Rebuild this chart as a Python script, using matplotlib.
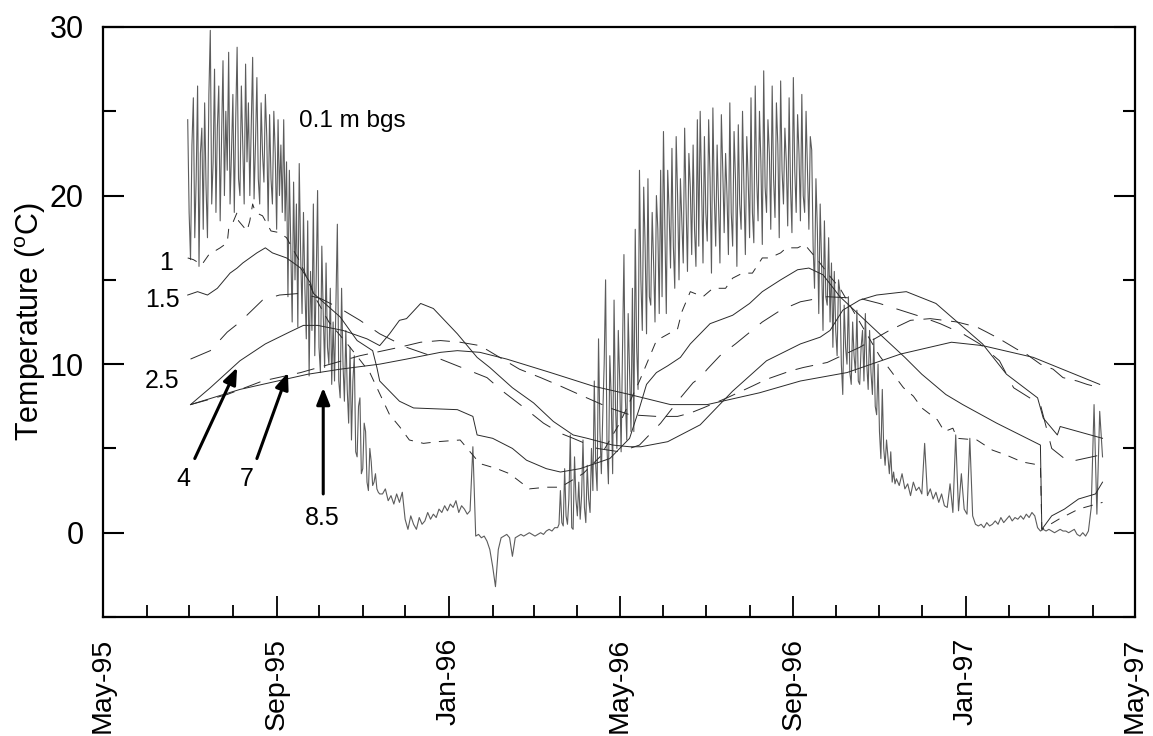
import numpy as np
import pandas as pd
import matplotlib
matplotlib.use("Agg")
import matplotlib.pyplot as plt
import matplotlib.dates as mdates
from matplotlib.ticker import FixedLocator

plt.rcParams['font.family'] = ['Liberation Sans', 'DejaVu Sans']
plt.rcParams['mathtext.fontset'] = 'custom'
plt.rcParams['mathtext.rm'] = 'Liberation Sans'
plt.rcParams['lines.scale_dashes'] = False

BASE = pd.Timestamp('1995-05-01')

# ---------------- 0.1 m bgs readings: segments (start day since 1 May 1995, step in days) -------------
t01_starts = [60, 78, 131, 148, 165, 176, 198, 262, 282, 322, 347, 376, 396, 422, 462, 502, 522, 548, 562, 662, 700]
t01_steps = [1, 1, 1, 1, 1, 1, 2, 2, 2, 1, 1, 1, 1, 1, 1, 1, 1, 1, 2, 2, 2]
t01_a = [24.5, 19.0, 16.2, 23.0, 25.8, 17.5, 21.0, 26.5, 15.8, 22.5, 24.0, 18.0, 25.5, 20.5,
         17.5, 26.0, 29.8, 19.5]
t01_b = [22.0, 27.5, 19.0, 24.0, 26.5, 18.5, 23.5, 28.0, 20.0, 25.0,
         21.5, 28.5, 19.5, 22.5, 26.0, 19.0, 24.5, 28.8, 21.0, 20.0,
         26.5, 23.0, 19.5, 27.8, 22.0, 25.5, 20.0, 24.0, 28.2, 19.8,
         23.0, 27.0, 21.0, 19.5, 25.5, 22.5, 20.8, 26.0, 23.5, 18.5,
         24.8, 21.0, 19.5, 25.0, 22.5, 18.0, 24.5, 20.0, 23.0, 19.0,
         24.5, 18.5, 22.0]
t01_c = [14.0, 21.5, 17.0, 12.5, 20.8, 15.0, 19.5, 12.2, 21.9, 16.5, 13.0, 19.0, 14.5, 11.5,
         18.5, 9.3, 15.5]
t01_d = [12.0, 19.5, 10.5, 15.0, 20.3, 11.0, 9.5, 17.0, 13.0, 9.8, 16.0, 11.0, 10.0, 14.5,
         8.8, 12.5, 9.0]
t01_e = [13.5, 18.3, 9.0, 8.0, 14.5, 10.0, 7.8, 12.0, 8.5, 6.5, 11.0]
t01_f = [5.5, 9.0, 10.5, 4.8, 4.5, 7.5, 8.0, 3.5, 3.8, 6.5, 6.0, 3.0, 2.5, 5.0, 4.2, 2.8,
         3.0, 3.5, 2.6, 2.4, 2.3]
t01_g = [2.3, 2.6, 1.9, 2.2, 1.7, 2.3, 1.8, 2.4, 0.8, 0.2, 1.0, 0.5, 0.2, 0.9, 0.5, 0.7,
         1.2, 0.8, 1.1, 0.9, 1.4, 1.2, 1.6, 1.3, 1.7, 1.5, 1.9, 1.2, 1.6, 1.4, 1.1, 1.3]
t01_h = [5.1, -0.2, -0.1, -0.3, -0.2, -0.5, -1.0, -2.0, -3.2, -1.0]
t01_i = [-0.3, -0.2, -0.1, -0.3, -1.4, -0.3, -0.2, -0.1, -0.2, -0.1, 0.0, -0.1, -0.2, -0.1,
         0.0, -0.1, 0.1, 0.2, 0.1, 0.3]
t01_j = [0.3, 0.5, 2.5, 0.6, 0.4, 3.8, 1.0, 0.5, 2.0, 5.8,
         0.3, 0.2, 4.5, 2.0, 1.0, 3.0, 0.8, 2.2, 5.5, 1.5,
         0.6, 4.0, 2.0, 1.2, 5.0]
t01_k = [2.5, 9.0, 4.0, 2.5, 11.5, 6.0, 3.5, 7.0, 10.0, 15.0,
         5.0, 2.9, 10.5, 8.0, 3.5, 13.8, 7.5, 5.0, 12.0, 9.0,
         4.8, 11.0, 16.5, 8.0, 5.5, 13.0, 9.5, 6.0, 14.5]
t01_l = [6.0, 18.0, 11.0, 8.5, 21.5, 15.0, 12.0, 20.5, 17.0, 11.8, 21.0, 14.0, 13.5, 19.0,
         16.0, 12.5, 20.0, 18.0, 13.0, 21.5]
t01_m = [14.0, 23.8, 18.0, 13.0, 21.5, 19.0, 15.7, 22.8, 17.0, 14.5,
         23.5, 20.0, 15.0, 21.0, 18.5, 16.0, 24.0, 19.5, 15.5, 22.5,
         20.5, 16.5, 23.0, 18.0, 15.8, 24.5]
t01_n = [17.0, 25.0, 20.5, 16.0, 23.5, 19.0, 17.3, 24.5, 21.0, 15.4,
         25.2, 20.0, 17.0, 23.0, 19.5, 16.0, 24.8, 21.5, 17.8, 22.5,
         20.0, 16.5, 25.5, 19.0, 17.0, 23.8, 21.0, 15.8, 24.2, 19.5,
         18.0, 25.0, 20.5, 16.5, 23.5, 21.0, 17.5, 25.8, 19.0, 17.2]
t01_o = [26.5, 21.0, 18.5, 25.0, 22.0, 17.1, 27.4, 20.5, 19.0, 24.5,
         22.5, 18.0, 26.5, 21.0, 18.7, 25.5, 23.0, 17.5, 26.8, 21.5,
         19.5, 24.0, 22.0, 18.2, 25.8, 20.5, 17.8, 27.0, 21.5, 19.0,
         24.8, 22.5, 18.5, 26.0, 20.0, 19.0, 25.0, 21.5, 18.0, 23.5]
t01_p = [22.7, 17.0, 14.5, 21.0, 18.0, 13.0, 19.5, 16.0, 12.0, 18.5, 14.0, 13.5, 17.5, 12.5,
         16.0, 11.0, 15.5, 12.0, 10.5, 15.0]
t01_q = [14.3, 10.0, 8.2, 13.5, 11.0, 10.0, 14.0, 9.5, 8.8, 12.5,
         10.5, 9.5, 13.2, 9.0, 8.8, 11.0, 12.0, 9.0, 13.0, 10.0,
         8.5, 12.0, 9.5, 8.2, 11.5, 7.5]
t01_r = [7.0, 10.0, 6.0, 4.4, 8.5, 5.0, 4.0, 5.5, 4.5, 3.5, 4.8, 3.0, 3.6, 2.9]
t01_s = [3.2, 2.8, 3.5, 2.6, 2.9, 2.2, 3.0, 2.5, 2.7, 2.3, 5.3, 2.2, 2.6, 2.0, 2.4, 1.8,
         2.3, 1.6, 1.5, 2.9, 1.2, 5.8, 1.3, 3.5, 1.4, 1.1, 5.6, 1.0, 0.5, 0.4, 0.5, 0.3,
         0.6, 0.4, 0.5, 0.7, 0.5, 0.9, 0.6, 0.8, 1.0, 0.7, 0.9, 0.8, 1.0, 0.8, 1.1, 0.9,
         1.2, 1.0]
t01_t = [0.3, 0.1, 0.2, 0.1, 0.2, 0.1, 0.0, 0.1, 0.2, 0.1, 0.1, 0.0, 0.1, 0.2, -0.1, -0.2,
         0.0, -0.2, 0.1]
t01_u = [1.5, 7.6, 1.1, 7.2, 4.5]
t01_segments = [t01_a, t01_b, t01_c, t01_d, t01_e, t01_f, t01_g, t01_h, t01_i, t01_j, t01_k,
                t01_l, t01_m, t01_n, t01_o, t01_p, t01_q, t01_r, t01_s, t01_t, t01_u]

# ---------------- deeper probes: (day since 1 May 1995, temperature) -------------
d1_day = [60, 64, 70, 75, 83, 88, 89, 92, 95, 96, 102, 104, 106, 108, 113, 119, 125, 130, 140,
          150, 160, 175, 189, 203, 210, 217, 227, 237, 253, 267, 279, 288, 302, 314, 324, 340,
          352, 366, 380, 392, 407, 410, 416, 425, 432, 441, 446, 453, 460, 467, 472, 480, 484,
          492, 497, 506, 515, 522, 536, 550, 567, 574, 580, 591, 596, 602, 605, 619, 630, 640,
          651, 664, 665, 677, 691, 708]
d1_val = [16.3, 16.2, 15.9, 16.5, 16.9, 17.2, 18.0, 18.4, 19.0, 18.5, 17.9, 18.5, 19.5, 19.0,
          18.8, 17.9, 17.8, 17.5, 16.0, 14.0, 12.5, 11.0, 9.5, 7.0, 6.3, 5.5, 5.3, 5.4, 5.5,
          4.1, 3.8, 3.5, 2.6, 2.7, 2.7, 3.5, 4.5, 6.5, 9.0, 11.4, 12.1, 13.1, 14.3, 14.0, 14.5,
          14.5, 15.1, 15.4, 15.4, 16.3, 16.3, 16.6, 16.9, 16.9, 17.1, 16.2, 15.2, 14.5, 12.5,
          10.5, 8.6, 8.1, 7.4, 6.7, 6.0, 6.2, 5.6, 5.5, 4.9, 4.6, 4.2, 4.0, 0.2, 0.8, 1.4, 1.8]

d15_day = [60, 67, 74, 81, 90, 95, 99, 104, 109, 115, 120, 130, 140, 147, 149, 168, 180, 191,
           194, 196, 210, 220, 251, 262, 265, 276, 290, 300, 314, 324, 338, 359, 373, 380, 385,
           392, 400, 409, 416, 423, 430, 446, 458, 467, 480, 492, 500, 510, 522, 536, 550, 568,
           580, 597, 609, 633, 664, 665, 672, 681, 691, 703, 708]
d15_val = [14.1, 14.3, 14.1, 14.5, 15.4, 15.7, 16.0, 16.3, 16.6, 16.9, 16.6, 16.3, 15.7, 14.8,
           14.2, 12.8, 11.4, 10.8, 9.8, 9.0, 7.8, 7.4, 7.3, 6.9, 5.8, 5.6, 5.0, 4.3, 3.8, 3.6,
           3.8, 4.4, 5.6, 7.4, 8.8, 9.5, 9.9, 10.4, 11.2, 11.8, 12.4, 12.9, 13.6, 14.3, 15.0,
           15.6, 15.7, 15.3, 14.0, 12.9, 11.8, 10.4, 9.4, 8.2, 7.6, 6.5, 5.2, 0.2, 1.0, 1.4,
           2.0, 2.3, 3.0]

d25_day = [62, 76, 88, 97, 113, 125, 140, 154, 168, 182, 196, 215, 239, 260, 272, 283, 297,
           312, 324, 333, 350, 366, 380, 395, 409, 418, 423, 428, 437, 448, 467, 480, 494, 513,
           536, 550, 565, 580, 593, 609, 621, 635, 645, 664, 672, 684, 706]
d25_val = [10.3, 10.8, 11.9, 12.5, 13.8, 14.1, 14.2, 13.9, 13.3, 12.6, 11.8, 11.0, 10.3, 9.6,
           9.2, 8.4, 7.5, 6.5, 5.9, 5.6, 5.0, 4.8, 5.2, 6.5, 8.0, 8.9, 9.2, 9.7, 10.5, 11.2,
           12.5, 13.2, 13.7, 14.0, 13.9, 13.6, 13.2, 12.8, 12.4, 11.8, 11.2, 10.2, 8.6, 7.6,
           5.0, 4.2, 4.6]

d4_day = [62, 76, 97, 115, 132, 142, 152, 170, 187, 196, 203, 210, 215, 225, 234, 251, 265,
          274, 290, 305, 319, 333, 343, 361, 373, 381, 400, 423, 446, 470, 494, 508, 515, 524,
          536, 548, 569, 590, 623, 640, 662, 666, 676, 678, 708]
d4_val = [7.6, 8.6, 10.2, 11.2, 11.9, 12.3, 12.3, 12.0, 11.5, 11.1, 11.8, 12.6, 12.7, 13.6,
          13.3, 11.8, 10.4, 9.8, 8.6, 7.7, 6.6, 5.8, 5.6, 5.2, 5.1, 5.1, 5.4, 6.4, 8.4, 10.2,
          11.2, 11.6, 12.0, 13.2, 13.8, 14.1, 14.3, 13.6, 11.2, 9.4, 8.0, 6.8, 5.8, 6.3, 5.6]

d7_day = [62, 88, 113, 140, 161, 182, 210, 225, 239, 253, 267, 279, 295, 310, 324, 340, 359,
          373, 392, 407, 416, 425, 442, 460, 470, 487, 496, 513, 536, 557, 572, 586, 605, 619,
          626, 635, 647, 654, 664, 673, 680, 690, 697, 706]
d7_val = [7.6, 8.2, 9.0, 9.5, 10.0, 10.5, 11.0, 11.3, 11.4, 11.3, 11.1, 10.5, 9.7, 9.2, 8.7,
          8.1, 7.4, 7.0, 6.9, 6.9, 7.1, 7.4, 8.0, 8.7, 9.1, 9.6, 9.8, 10.1, 11.0, 12.0, 12.6,
          12.7, 12.5, 12.2, 11.9, 11.5, 10.9, 10.6, 10.0, 9.7, 9.2, 9.0, 8.8, 8.6]

d85_day = [62, 97, 145, 168, 196, 215, 239, 251, 267, 286, 317, 347, 373, 402, 428, 465, 494,
           527, 565, 601, 623, 659, 706]
d85_val = [7.6, 8.5, 9.4, 9.7, 10.0, 10.3, 10.7, 10.8, 10.7, 10.3, 9.5, 8.7, 8.2, 7.6, 7.6,
           8.3, 9.0, 9.5, 10.6, 11.3, 11.1, 10.4, 8.8]

depth_labels = ['1', '1.5', '2.5', '4', '7', '8.5']


def to_dates(days):
    return BASE + pd.to_timedelta(np.asarray(days, dtype=float), unit='D')


fig = plt.figure(figsize=(11.53, 7.36), dpi=100)
ax = fig.add_axes([103 / 1153, 1 - 617 / 736, (1135 - 103) / 1153, (617 - 27) / 736])

# 0.1 m series
all_days = np.concatenate([s + st * np.arange(len(v))
                           for s, st, v in zip(t01_starts, t01_steps, t01_segments)])
all_vals = np.concatenate(t01_segments)
ax.plot(to_dates(all_days), all_vals, color='#5c5c5c', lw=0.8)

lc = '#2a2a2a'
ax.plot(to_dates(d1_day), d1_val, color=lc, lw=0.7, dashes=(7, 6))
ax.plot(to_dates(d15_day), d15_val, color=lc, lw=0.7)
ax.plot(to_dates(d25_day), d25_val, color=lc, lw=0.7, dashes=(16, 10))
ax.plot(to_dates(d4_day), d4_val, color=lc, lw=0.7)
ax.plot(to_dates(d7_day), d7_val, color=lc, lw=0.7, dashes=(13, 7))
ax.plot(to_dates(d85_day), d85_val, color=lc, lw=0.7)

ax.set_xlim(pd.Timestamp('1995-05-01'), pd.Timestamp('1997-05-01'))
ax.set_ylim(-5, 30)

ax.xaxis.set_major_locator(mdates.MonthLocator(bymonth=[1, 5, 9]))
ax.xaxis.set_minor_locator(mdates.MonthLocator())
ax.xaxis.set_major_formatter(mdates.DateFormatter('%b-%y'))
ax.yaxis.set_major_locator(FixedLocator([0, 10, 20, 30]))
ax.yaxis.set_minor_locator(FixedLocator([-5, 5, 15, 25]))

ax.tick_params(axis='x', which='both', direction='in', top=False, bottom=True,
               labelsize=20.5, pad=15, labelrotation=90)
ax.tick_params(axis='x', which='major', length=15, width=1.3)
ax.tick_params(axis='x', which='minor', length=8.5, width=1.3)
ax.tick_params(axis='y', which='both', direction='in', left=True, right=True,
               labelsize=22, pad=14)
ax.tick_params(axis='y', which='major', length=15, width=1.5)
ax.tick_params(axis='y', which='minor', length=9, width=1.5)
for sp in ax.spines.values():
    sp.set_linewidth(1.6)

ax.set_ylabel(r'Temperature ($^{\rm o}$C)', fontsize=22, labelpad=1)

# annotations
ax.text(to_dates([139])[0], 24.4, '0.1 m bgs', fontsize=17.5, ha='left', va='center')
label_font = 18
ax.text(to_dates([45])[0], 16.0, depth_labels[0], fontsize=label_font, ha='center', va='center')
ax.text(to_dates([42])[0], 13.8, depth_labels[1], fontsize=label_font, ha='center', va='center')
ax.text(to_dates([42])[0], 9.0, depth_labels[2], fontsize=label_font, ha='center', va='center')
ax.text(to_dates([57])[0], 3.2, depth_labels[3], fontsize=label_font, ha='center', va='center')
ax.text(to_dates([102])[0], 3.2, depth_labels[4], fontsize=label_font, ha='center', va='center')
ax.text(to_dates([155])[0], 0.9, depth_labels[5], fontsize=label_font, ha='center', va='center')

arrow_kw = dict(arrowstyle='-|>,head_length=1.0,head_width=0.4', color='black', lw=2.2,
                shrinkA=0, shrinkB=0)
ax.annotate('', xy=(to_dates([95])[0], 9.8), xytext=(to_dates([65])[0], 4.4), arrowprops=arrow_kw)
ax.annotate('', xy=(to_dates([131])[0], 9.5), xytext=(to_dates([109])[0], 4.4), arrowprops=arrow_kw)
ax.annotate('', xy=(to_dates([156])[0], 8.6), xytext=(to_dates([156])[0], 2.3), arrowprops=arrow_kw)

fig.savefig('out.png', dpi=100)
